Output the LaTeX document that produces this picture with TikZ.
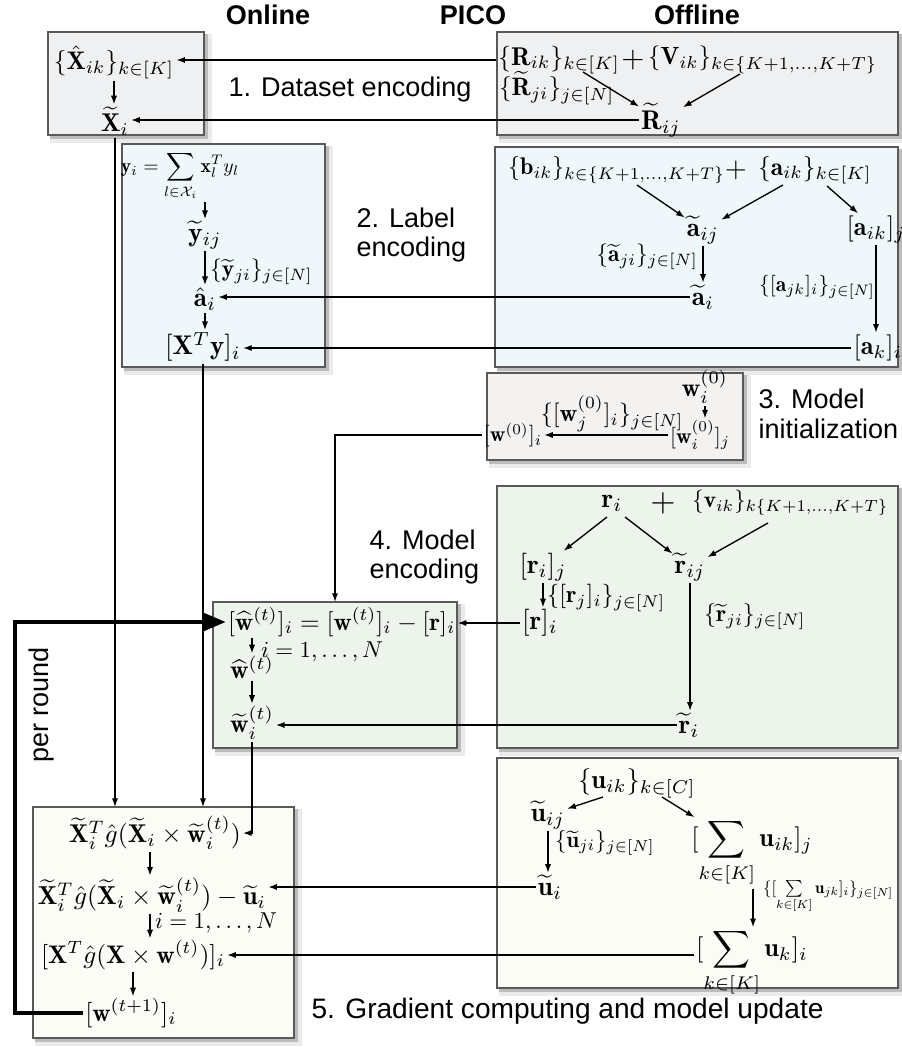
\documentclass[tikz,border=0pt]{standalone}
\usepackage{amsmath}
\usepackage{fontspec}
\setsansfont{Liberation Sans}
\usetikzlibrary{arrows.meta,calc}
\definecolor{cA}{HTML}{EEF0F1}
\definecolor{cB}{HTML}{F0F7FB}
\definecolor{cC}{HTML}{F4F2F0}
\definecolor{cD}{HTML}{EDF4EC}
\definecolor{cE}{HTML}{FBFCF6}
\newcommand\sm[2]{\scalebox{#1}{#2}}
\newcommand\drawpanel[5]{%
  \fill[black,opacity=0.08] (#1+2,#2+2) rectangle (#3+8,#4+8);
  \fill[black,opacity=0.20] (#1+2,#2+2) rectangle (#3+4,#4+4);
  \draw[fill=#5, draw=black!65, line width=0.45pt] (#1,#2) rectangle (#3,#4);}
\tikzset{
  arr/.style={-{Latex[length=3.2pt,width=2.3pt]}, line width=0.5pt},
  m/.style={inner sep=0.8pt, outer sep=0pt},
  lbl/.style={font=\sffamily\fontsize{10}{11}\selectfont, align=left, inner sep=0pt},
  lblb/.style={font=\sffamily\fontsize{10.4}{11}\selectfont, inner sep=0pt},
  hdr/.style={font=\sffamily\bfseries\fontsize{10}{12}\selectfont, inner sep=0pt},
  thickarr/.style={-{Triangle[length=8.5pt,width=6.5pt]}, line width=1.8pt},
}
\begin{document}
\begin{tikzpicture}[x=0.37pt,y=-0.37pt]
\useasboundingbox (0,0) rectangle (902,1047);
% headers
\node[hdr] (hOn) at (268,15) {Online};
\node[hdr] (hPi) at (473,15) {PICO};
\node[hdr] (hOff) at (697,15) {Offline};
% panels
\drawpanel{48}{32}{204}{135}{cA}
\drawpanel{497}{32}{898}{135}{cA}
\drawpanel{122}{144}{325}{367}{cB}
\drawpanel{495}{147}{898}{367}{cB}
\drawpanel{487}{373}{743}{460}{cC}
\drawpanel{497}{486}{898}{748}{cD}
\drawpanel{213}{602}{457}{748}{cD}
\drawpanel{497}{758}{898}{988}{cE}
\drawpanel{33}{807}{294}{1038}{cE}
\coordinate (B4top) at (335,602);
\coordinate (B5top) at (150,807);
\coordinate (rl) at (15,800);
% ---- row 1
\node[m] (Xhat) at (114,62) {\sm{0.94}{$\{\hat{\mathbf X}_{ik}\}_{k\in[K]}$}};
\node[m] (Xt) at (115,121) {\sm{0.95}{$\widetilde{\mathbf X}_i$}};
\node[lbl] (t1) at (350,90) {1. Dataset encoding};
\node[m,anchor=west] (R) at (496,60) {\sm{0.95}{$\{\mathbf R_{ik}\}_{k\in[K]}$}};
\node[m] (p1) at (633,60) {\sm{1.1}{$+$}};
\node[m,anchor=west] (V) at (646,60) {\sm{0.92}{$\{\mathbf V_{ik}\}_{k\in\{K+1,\ldots,K+T\}}$}};
\node[m,anchor=west] (Rji) at (497,88) {\sm{0.93}{$\{\widetilde{\mathbf R}_{ji}\}_{j\in[N]}$}};
\node[m] (Rt) at (661,120) {$\widetilde{\mathbf R}_{ij}$};
\coordinate (c1a) at (583,72);
\coordinate (c1b) at (740,74);
\draw[arr] (c1a) -- (Rt);
\draw[arr] (c1b) -- (Rt);
\draw[arr] (R.west) -- (R.west -| Xhat.east);
\draw[arr] (Rt.west) -- (Rt.west -| Xt.east);
\draw[arr] (Xhat) -- (Xhat |- Xt.north);
\draw[arr] (Xt) -- (Xt |- B5top);
% ---- row 2 online
\node[m] (yf) at (180,176) {\sm{0.73}{$\displaystyle \mathbf y_i=\sum_{l\in\mathcal X_i}\mathbf x_l^T y_l$}};
\node[m] (yt) at (205,235) {$\widetilde{\mathbf y}_{ij}$};
\node[m,anchor=west] (yjl) at (208,272) {\sm{0.87}{$\{\widetilde{\mathbf y}_{ji}\}_{j\in[N]}$}};
\node[m] (ahat) at (205,299) {$\hat{\mathbf a}_i$};
\node[m] (XTy) at (203,347) {$[\mathbf X^T\mathbf y]_i$};
\node[lbl,anchor=west] (t2) at (356,235) {2. Label\\encoding};
\draw[arr] (yf.south -| yt) -- (yt);
\draw[arr] (yt) -- (yt |- ahat.north);
\draw[arr] (ahat) -- (ahat |- XTy.north);
\draw[arr] (XTy) -- (XTy |- B5top);
% ---- row 2 offline
\node[m,anchor=west] (b) at (506,170) {\sm{0.89}{$\{\mathbf b_{ik}\}_{k\in\{K+1,\ldots,K+T\}}$}};
\node[m] (p2) at (736,170) {\sm{1.05}{$+$}};
\node[m,anchor=west] (a) at (756,170) {\sm{0.94}{$\{\mathbf a_{ik}\}_{k\in[K]}$}};
\node[m] (atij) at (703,230) {$\widetilde{\mathbf a}_{ij}$};
\node[m] (aikj) at (876,229) {\sm{0.97}{$[\mathbf a_{ik}]_j$}};
\node[m,anchor=east] (ajil) at (700,257) {\sm{0.87}{$\{\widetilde{\mathbf a}_{ji}\}_{j\in[N]}$}};
\node[m] (ati) at (703,297) {$\widetilde{\mathbf a}_i$};
\node[m] (ajkl) at (817,287) {\sm{0.8}{$\{[\mathbf a_{jk}]_i\}_{j\in[N]}$}};
\node[m] (aki) at (878,348) {\sm{0.97}{$[\mathbf a_k]_i$}};
\coordinate (c2a) at (637,185);
\coordinate (c2b) at (783,185);
\coordinate (c2c) at (827,186);
\draw[arr] (c2a) -- (atij);
\draw[arr] (c2b) -- (atij);
\draw[arr] (c2c) -- (aikj);
\draw[arr] (atij) -- (atij |- ati.north);
\draw[arr] (aikj) -- (aikj |- aki.north);
\draw[arr] (ati.west) -- (ati.west -| ahat.east);
\draw[arr] (aki.west) -- (aki.west -| XTy.east);
% ---- row 3
\node[m] (w0i) at (705,387) {\sm{0.95}{$\mathbf w_i^{(0)}$}};
\node[m] (w0ij) at (700,435) {\sm{0.8}{$[\mathbf w_i^{(0)}]_j$}};
\node[m] (w0l) at (612,414) {\sm{0.91}{$\{[\mathbf w_j^{(0)}]_i\}_{j\in[N]}$}};
\node[m] (w0) at (513,435) {\sm{0.8}{$[\mathbf w^{(0)}]_i$}};
\node[lbl,anchor=west] (t3) at (758,414) {3. Model\\initialization};
\draw[arr] (w0i) -- (w0i |- w0ij.north);
\draw[arr] (w0ij.west) -- (w0ij.west -| w0.east);
\draw[arr] (w0.west) -| (B4top);
% ---- row 4 offline
\node[m] (r0) at (612,503) {$\mathbf r_i$};
\node[m] (p3) at (663,503) {\sm{1.2}{$+$}};
\node[m,anchor=west] (v) at (690,503) {\sm{0.86}{$\{\mathbf v_{ik}\}_{k\{K+1,\ldots,K+T\}}$}};
\node[m] (rij) at (543,567) {$[\mathbf r_i]_j$};
\node[m] (rtij) at (690,567) {$\widetilde{\mathbf r}_{ij}$};
\node[m,anchor=west] (rjl) at (545,598) {\sm{0.9}{$\{[\mathbf r_j]_i\}_{j\in[N]}$}};
\node[m] (ri) at (540,623) {$[\mathbf r]_i$};
\node[m,anchor=west] (rtl) at (702,617) {\sm{0.88}{$\{\widetilde{\mathbf r}_{ji}\}_{j\in[N]}$}};
\node[m] (rti) at (689,725) {$\widetilde{\mathbf r}_i$};
\node[lbl,anchor=west] (t4) at (369,557) {4. Model\\encoding};
\coordinate (c4a) at (607,517);
\coordinate (c4b) at (625,517);
\coordinate (c4c) at (768,523);
\draw[arr] (c4a) -- (rij);
\draw[arr] (c4b) -- (rtij);
\draw[arr] (c4c) -- (rtij);
\draw[arr] (rij) -- (rij |- ri.north);
\draw[arr] (rtij) -- (rtij |- rti.north);
% ---- row 4 online
\node[m,anchor=west] (weq) at (226,622) {\sm{0.93}{$[\widehat{\mathbf w}^{(t)}]_i=[\mathbf w^{(t)}]_i-[\mathbf r]_i$}};
\node[m,anchor=west] (ieq) at (259,652) {\sm{0.85}{$i=1,\ldots,N$}};
\node[m] (what) at (252,667) {\sm{0.95}{$\widehat{\mathbf w}^{(t)}$}};
\node[m] (wt) at (252,723) {\sm{0.95}{$\widetilde{\mathbf w}_i^{(t)}$}};
\draw[arr] (what |- weq.south) -- (what);
\draw[arr] (what) -- (what |- wt.north);
\draw[arr] (ri.west) -- (ri.west -| weq.east);
\draw[arr] (rti.west) -- (rti.west -| wt.east);
% ---- row 5 online
\node[m] (ex1) at (155,833) {\sm{0.95}{$\widetilde{\mathbf X}_i^T\hat g(\widetilde{\mathbf X}_i\times\widetilde{\mathbf w}_i^{(t)})$}};
\node[m] (ex2) at (152,895) {\sm{0.96}{$\widetilde{\mathbf X}_i^T\hat g(\widetilde{\mathbf X}_i\times\widetilde{\mathbf w}_i^{(t)})-\widetilde{\mathbf u}_i$}};
\node[m,anchor=west] (il5) at (153,923) {\sm{0.85}{$i=1,\ldots,N$}};
\node[m] (ex3) at (133,955) {\sm{0.94}{$[\mathbf X^T\hat g(\mathbf X\times\mathbf w^{(t)})]_i$}};
\node[m] (w1) at (131,1013) {\sm{0.94}{$[\mathbf w^{(t+1)}]_i$}};
\coordinate (x150) at (150,0);
\draw[arr] (ex1.south -| x150) -- (ex2.north -| x150);
\draw[arr] (ex2.south -| x150) -- (ex3.north -| x150);
\draw[arr] (ex3) -- (ex3 |- w1.north);
\draw[arr] (wt) |- (ex1.east);
\node[lbl, rotate=90] (pr) at (42,705) {per round};
\draw[thickarr] (w1.west) -| (rl) |- (weq.west);
\node[lblb,anchor=west] (t5) at (311,1011) {5. Gradient computing and model update};
% ---- row 5 offline
\node[m] (u) at (637,783) {\sm{0.98}{$\{\mathbf u_{ik}\}_{k\in[C]}$}};
\node[m] (utij) at (548,815) {$\widetilde{\mathbf u}_{ij}$};
\node[m] (suj) at (752,853) {\sm{0.97}{$\displaystyle[\sum_{k\in[K]}\mathbf u_{ik}]_j$}};
\node[m,anchor=west] (ujl) at (553,843) {\sm{0.84}{$\{\widetilde{\mathbf u}_{ji}\}_{j\in[N]}$}};
\node[m] (uti) at (550,887) {$\widetilde{\mathbf u}_i$};
\node[m,anchor=west] (sul) at (761,897) {\sm{0.62}{$\{[\sum\limits_{k\in[K]}\mathbf u_{jk}]_i\}_{j\in[N]}$}};
\node[m] (suk) at (752,963) {\sm{0.97}{$\displaystyle[\sum_{k\in[K]}\mathbf u_k]_i$}};
\coordinate (c5a) at (603,797);
\coordinate (c5b) at (662,797);
\coordinate (x753) at (753,0);
\draw[arr] (c5a) -- (utij);
\draw[arr] (c5b) -- (suj);
\draw[arr] (utij) -- (utij |- uti.north);
\draw[arr] (suj.south -| x753) -- (suk.north -| x753);
\draw[arr] (uti.west) -- (uti.west -| ex2.east);
\draw[arr] (suk.west |- ex3.east) -- (ex3.east);
\end{tikzpicture}
\end{document}
